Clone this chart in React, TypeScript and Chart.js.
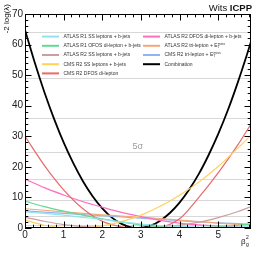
import React, { useEffect, useRef } from "react";
import { Chart, registerables } from "chart.js";

Chart.register(...registerables);

// ---- data ----
const betaSq = [0, 0.5, 1, 1.5, 2, 2.5, 3, 3.5, 4, 4.5, 5, 5.5, 5.85];
const atlasR1SS = [5.3, 4.8, 4.2, 3.5, 2.8, 2.0, 1.3, 0.8, 0.5, 0.3, 0.25, 0.3, 0.4];
const atlasR1OFOS = [8.8, 7.0, 5.5, 4.2, 3.0, 1.9, 1.0, 0.4, 0.1, 0.15, 0.4, 0.9, 1.3];
const atlasR2SS = [3.5, 2.2, 1.1, 0.45, 0.12, 0, 0.05, 0.35, 0.95, 1.9, 3.4, 5.3, 7.0];
const cmsR2SS = [2.6, 0.9, 0.15, 0.05, 0.7, 2.1, 4.2, 7.1, 10.7, 15.0, 20.1, 26.0, 30.4];
const cmsR2DFOS = [30, 20.5, 12.5, 6.3, 2.2, 0.4, 0, 0.3, 3.0, 10.0, 18.0, 27.0, 34.0];
const atlasR2DFOS = [16, 13.2, 10.8, 8.6, 6.8, 5.1, 3.7, 2.5, 1.6, 1.0, 0.6, 0.3, 0.2];
const atlasR2Tri = [6.3, 5.8, 5.3, 4.8, 4.3, 3.9, 3.5, 3.1, 2.6, 2.1, 1.6, 1.2, 1.0];
const cmsR2Tri = [5.6, 5.2, 4.8, 4.4, 4.0, 3.6, 3.2, 2.8, 2.4, 2.0, 1.7, 1.4, 1.2];

const betaSqFine = [0, 0.25, 0.5, 0.75, 1, 1.25, 1.5, 1.75, 2, 2.25, 2.5, 2.75, 2.92, 3.25, 3.5, 3.75, 4, 4.25, 4.5, 4.75, 5, 5.25, 5.5, 5.75, 5.85];
const combination = [64.8, 54.2, 44.5, 35.8, 28, 21.2, 15.3, 10.4, 6.4, 3.4, 1.34, 0.22, 0, 0.77, 2.4, 4.9, 8.3, 12.6, 17.7, 23.8, 30.7, 38.5, 47.3, 56.9, 61];

const sigmaLevels = [1, 4, 9, 16, 25, 36, 49, 64];
const sigmaLabel = "5σ";
const sigmaLabelValue = 25;
const xTickValues = [0, 1, 2, 3, 4, 5];
const yTickValues = [0, 10, 20, 30, 40, 50, 60, 70];

const FONT = '"Liberation Sans", Arial, Helvetica, sans-serif';

type Series = { label: string; xs: number[]; ys: number[]; color: string; width: number; col: number; row: number };

const series: Series[] = [
  { label: "ATLAS R1 SS leptons + b-jets", xs: betaSq, ys: atlasR1SS, color: "#92e3f0", width: 1.2, col: 0, row: 0 },
  { label: "ATLAS R1 OFOS di-lepton + b-jets", xs: betaSq, ys: atlasR1OFOS, color: "#62d994", width: 1.2, col: 0, row: 1 },
  { label: "ATLAS R2 SS leptons + b-jets", xs: betaSq, ys: atlasR2SS, color: "#cc9f9f", width: 1.2, col: 0, row: 2 },
  { label: "CMS R2 SS leptons + b-jets", xs: betaSq, ys: cmsR2SS, color: "#ffd25e", width: 1.2, col: 0, row: 3 },
  { label: "CMS R2 DFOS di-lepton", xs: betaSq, ys: cmsR2DFOS, color: "#e86a6a", width: 1.2, col: 0, row: 4 },
  { label: "ATLAS R2 DFOS di-lepton + b-jets", xs: betaSq, ys: atlasR2DFOS, color: "#ff6fc0", width: 1.2, col: 1, row: 0 },
  { label: "ATLAS R2 tri-lepton + E_T^miss", xs: betaSq, ys: atlasR2Tri, color: "#f5a878", width: 1.2, col: 1, row: 1 },
  { label: "CMS R2 tri-lepton + E_T^miss", xs: betaSq, ys: cmsR2Tri, color: "#8fb6f2", width: 1.2, col: 1, row: 2 },
  { label: "Combination", xs: betaSqFine, ys: combination, color: "#000000", width: 1.8, col: 1, row: 3 },
];

function drawLegendText(ctx: CanvasRenderingContext2D, text: string, x: number, y: number) {
  const size = 5;
  ctx.fillStyle = "#333";
  ctx.textBaseline = "middle";
  ctx.textAlign = "left";
  ctx.font = `${size}px ${FONT}`;
  const marker = "E_T^miss";
  if (text.includes(marker)) {
    const before = text.split(marker)[0] + "E";
    ctx.fillText(before, x, y);
    const w = ctx.measureText(before).width;
    ctx.font = `3.5px ${FONT}`;
    ctx.fillText("T", x + w + 0.2, y + 1.3);
    ctx.fillText("miss", x + w + 0.2, y - 2);
  } else {
    ctx.fillText(text, x, y);
  }
}

const decorPlugin = {
  id: "decor",
  beforeDatasetsDraw(chart: any) {
    const { ctx, chartArea, scales } = chart;
    const xs = scales.x, ys = scales.y;
    ctx.save();
    ctx.strokeStyle = "#d8d8d8";
    ctx.lineWidth = 1;
    for (const v of sigmaLevels) {
      const py = Math.round(ys.getPixelForValue(v)) + 0.5;
      ctx.beginPath();
      ctx.moveTo(chartArea.left, py);
      ctx.lineTo(chartArea.right, py);
      ctx.stroke();
    }
    ctx.fillStyle = "#9a9a9a";
    ctx.font = `9px ${FONT}`;
    ctx.textAlign = "center";
    ctx.textBaseline = "bottom";
    ctx.fillText(sigmaLabel, xs.getPixelForValue(2.92), ys.getPixelForValue(sigmaLabelValue) - 1);
    ctx.restore();
  },
  afterDatasetsDraw(chart: any) {
    const { ctx, chartArea, scales } = chart;
    const xs = scales.x, ys = scales.y;
    const { left, right, top, bottom } = chartArea;
    ctx.save();
    // frame
    ctx.strokeStyle = "#000";
    ctx.lineWidth = 1;
    ctx.strokeRect(Math.round(left) + 0.5, Math.round(top) + 0.5, Math.round(right - left) - 1, Math.round(bottom - top) - 1);
    // ticks
    const major = 6.5, minor = 3.3;
    ctx.beginPath();
    for (let i = 0; i <= 35; i++) {
      const v = i * 2;
      const py = Math.round(ys.getPixelForValue(v)) + 0.5;
      const len = v % 10 === 0 ? major : minor;
      ctx.moveTo(left, py); ctx.lineTo(left + len, py);
      ctx.moveTo(right, py); ctx.lineTo(right - len, py);
    }
    for (let i = 0; i <= 29; i++) {
      const v = i * 0.2;
      if (v > 5.85) break;
      const px = Math.round(xs.getPixelForValue(v)) + 0.5;
      const len = i % 5 === 0 ? major : minor;
      ctx.moveTo(px, bottom); ctx.lineTo(px, bottom - len);
      ctx.moveTo(px, top); ctx.lineTo(px, top + len);
    }
    ctx.stroke();

    // legend
    const rowY0 = top + 22.6, rowDy = 9.2;
    const colLine = [left + 17, left + 118];
    for (const s of series) {
      const y = rowY0 + s.row * rowDy;
      const x0 = colLine[s.col];
      ctx.strokeStyle = s.color;
      ctx.lineWidth = 2;
      ctx.beginPath();
      ctx.moveTo(x0, y); ctx.lineTo(x0 + 17, y);
      ctx.stroke();
      drawLegendText(ctx, s.label, x0 + 21.5, y);
    }

    // y title
    ctx.fillStyle = "#111";
    ctx.font = `8px ${FONT}`;
    ctx.save();
    ctx.translate(7, 4);
    ctx.rotate(-Math.PI / 2);
    ctx.textAlign = "right";
    ctx.textBaseline = "middle";
    ctx.fillText("-2 log(λ)", 0, 0);
    ctx.restore();

    // x title
    ctx.textAlign = "left";
    ctx.textBaseline = "alphabetic";
    ctx.font = `8px ${FONT}`;
    ctx.fillText("β", 241, 244);
    ctx.font = `5px ${FONT}`;
    ctx.fillText("2", 246, 239);
    ctx.fillText("g", 246, 246);

    // header
    ctx.textAlign = "right";
    ctx.textBaseline = "alphabetic";
    ctx.font = `bold 9.5px ${FONT}`;
    const bw = ctx.measureText("ICPP").width;
    ctx.fillText("ICPP", 252, 10.5);
    ctx.font = `9.5px ${FONT}`;
    ctx.fillText("Wits ", 252 - bw, 10.5);
    ctx.restore();
  },
};

export default function App() {
  const ref = useRef<HTMLCanvasElement | null>(null);
  useEffect(() => {
    if (!ref.current) return;
    const chart = new Chart(ref.current, {
      type: "line",
      data: {
        datasets: series.map((s) => ({
          label: s.label,
          data: s.xs.map((x, i) => ({ x, y: s.ys[i] })),
          borderColor: s.color,
          backgroundColor: s.color,
          borderWidth: s.width,
          pointRadius: 0,
          fill: false,
          cubicInterpolationMode: "monotone",
        })),
      },
      options: {
        animation: false,
        responsive: false,
        maintainAspectRatio: false,
        layout: { padding: { top: 14, right: 14, left: 0, bottom: 0 } },
        plugins: { legend: { display: false }, tooltip: { enabled: false } },
        scales: {
          x: {
            type: "linear",
            min: 0,
            max: 5.85,
            grid: { display: false, drawTicks: false },
            border: { display: false },
            afterBuildTicks: (s: any) => { s.ticks = xTickValues.map((v) => ({ value: v })); },
            ticks: { font: { family: FONT, size: 10 }, color: "#222", padding: 1, maxRotation: 0, autoSkip: false },
            afterFit: (s: any) => { s.height = 25; },
          },
          y: {
            type: "linear",
            min: 0,
            max: 70,
            grid: { display: false, drawTicks: false },
            border: { display: false },
            afterBuildTicks: (s: any) => { s.ticks = yTickValues.map((v) => ({ value: v })); },
            ticks: { font: { family: FONT, size: 10 }, color: "#222", padding: 2, autoSkip: false },
            afterFit: (s: any) => { s.width = 25; },
          },
        },
      } as any,
      plugins: [decorPlugin],
    });
    return () => chart.destroy();
  }, []);
  return (
    <div style={{ position: "fixed", left: 0, top: 0, width: 265, height: 253, background: "#fff" }}>
      <canvas ref={ref} width={265} height={253} style={{ display: "block", width: 265, height: 253 }} />
    </div>
  );
}
